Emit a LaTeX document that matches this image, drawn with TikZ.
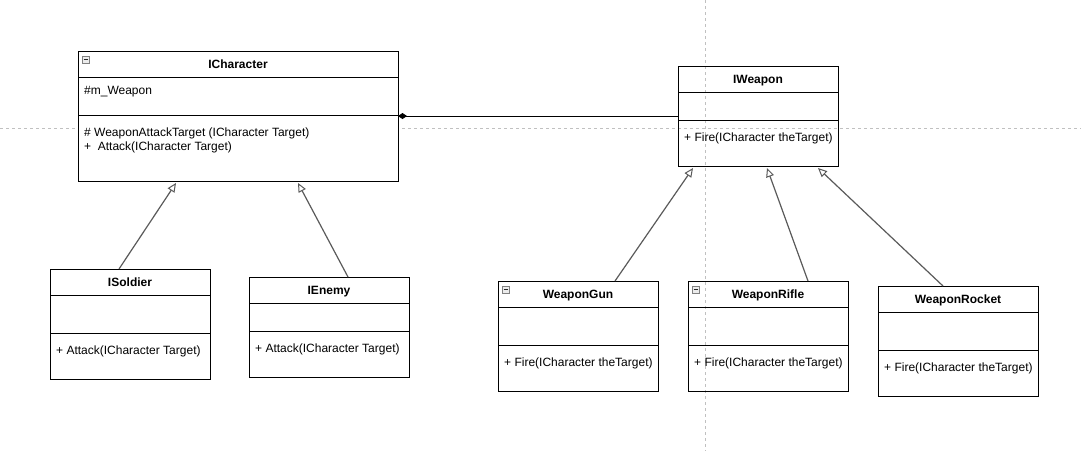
\documentclass[tikz,border=0pt]{standalone}
\usepackage{fontspec}
\setmainfont{Liberation Sans}
\usetikzlibrary{calc}
\usetikzlibrary{arrows.meta}
\usepackage{xcolor}
\definecolor{guidegray}{RGB}{192,192,192}
\definecolor{linkgray}{RGB}{90,90,90}
\newcommand{\collapseicon}[1]{%
\draw[gray, fill=gray!15, line width=.7pt] ($(#1.north west)+(4,5)$) rectangle ++(7,7);
\draw[black!85, line width=1pt] ($(#1.north west)+(5.5,8.5)$) --++(4,0);}

\begin{document}
\begin{tikzpicture}[x=1pt, y=-1pt,
classbox/.style={draw, line width=1pt, anchor=north west, inner sep=0, outer sep=0},
classtitle/.style={anchor=base, inner sep=0, font=\fontsize{12}{14}\selectfont\bfseries},
member/.style={anchor=base west, inner sep=0, font=\fontsize{12}{14}\selectfont},
inherit/.style={draw=linkgray, line width=1.2pt, -{Triangle[open, length=9pt, width=8pt, line width=1pt]}},
aggr/.style={draw=black, line width=1pt, {Diamond[length=9pt, width=6pt]}-}]
\useasboundingbox (0,0) rectangle (1081,451);
\draw[guidegray, line width=.8pt, dash pattern=on 3pt off 3pt] (0,128)--(1081,128);
\draw[guidegray, line width=.8pt, dash pattern=on 3pt off 3pt] (705,0)--(705,451);
\node[classbox, fill=white, minimum width=320, minimum height=130] (ichar) at (78,51) {};
\draw[line width=1pt] ($(ichar.north west)+(0,26)$) --++(320,0);
\draw[line width=1pt] ($(ichar.north west)+(0,64)$) --++(320,0);
\node[classtitle] (ichar-t) at ($(ichar.north)+(0,17)$) {ICharacter};
\node[member] (ichar-a) at ($(ichar.north west)+(6,43)$) {\#m\_Weapon};
\node[member] (ichar-m) at ($(ichar.north west)+(6,85)$) {\# WeaponAttackTarget (ICharacter Target)};
\node[member] (ichar-n) at ($(ichar.north west)+(6,99)$) {+\ \ Attack(ICharacter Target)};
\foreach \nm/\x/\y/\ah/\ttl/\mth in {
iweapon/678/66/28/IWeapon/Fire(ICharacter theTarget),
isoldier/50/269/38/ISoldier/Attack(ICharacter Target),
ienemy/249/277/28/IEnemy/Attack(ICharacter Target),
wgun/498/281/38/WeaponGun/Fire(ICharacter theTarget),
wrifle/688/281/38/WeaponRifle/Fire(ICharacter theTarget),
wrocket/878/286/38/WeaponRocket/Fire(ICharacter theTarget)} {
\node[classbox, minimum width=160, minimum height=72+\ah] (\nm) at (\x,\y) {};
\draw[line width=1pt] (\x,{\y+26}) --++(160,0);
\draw[line width=1pt] (\x,{\y+26+\ah}) --++(160,0);
\node[classtitle] (\nm-t) at ({\x+80},{\y+17}) {\ttl};
\node[member] (\nm-m) at ({\x+6},{\y+47+\ah}) {+ \mth};
}
\collapseicon{ichar}
\collapseicon{wgun}
\collapseicon{wrifle}
\draw[inherit] ($(isoldier.north west)+(69,0)$) -- ($(ichar.south west)+(98,2)$);
\draw[inherit] ($(ienemy.north west)+(99,0)$) -- ($(ichar.south west)+(220,2)$);
\draw[inherit] ($(wgun.north west)+(117,0)$) -- ($(iweapon.south west)+(15,2)$);
\draw[inherit] ($(wrifle.north west)+(120,0)$) -- ($(iweapon.south west)+(89,2)$);
\draw[inherit] ($(wrocket.north west)+(65,0)$) -- ($(iweapon.south west)+(140,2)$);
\draw[aggr] (ichar.east) -- (iweapon.west);
\end{tikzpicture}
\end{document}
